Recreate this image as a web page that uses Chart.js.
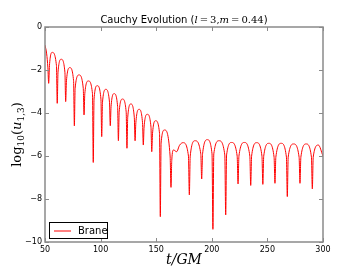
<!DOCTYPE html>
<html><head><meta charset="utf-8">
<script src="https://cdn.jsdelivr.net/npm/chart.js@4"></script>
<style>html,body{margin:0;padding:0;background:#fff}canvas{display:block}</style>
</head><body>
<canvas id="c" width="360" height="270"></canvas>
<script>
/* Cauchy evolution, brane mode l=3 */

const tVals = [
  50, 51.5, 52.6, 53.3, 54.0, 56.5, 60.3, 61.0, 61.7, 64.6,
  67.9, 68.6, 69.3, 72.3, 75.7, 76.4, 77.1, 80.6, 84.4, 85.1,
  85.8, 89.0, 92.7, 93.4, 94.1, 97.0, 100.3, 101.0, 101.7, 104.7,
  108.0, 108.7, 109.4, 112.2, 115.3, 116.0, 116.7, 119.7, 123.0, 123.7,
  124.4, 127.2, 130.3, 131.0, 131.7, 134.6, 137.7, 138.4, 139.1, 142.0,
  145.3, 146.0, 146.7, 149.5, 153.0, 153.7, 154.4, 157.5, 162.5, 163.3,
  164.0, 165.6, 168.4, 171.0, 174.2, 179.0, 179.8, 180.6, 185.0, 190.1,
  190.9, 191.7, 196.0, 200.2, 201.0, 201.8, 206.5, 211.7, 212.5, 213.3,
  217.8, 222.8, 223.6, 224.4, 229.3, 234.2, 235.0, 235.8, 240.4, 245.1,
  245.9, 246.7, 251.3, 256.0, 256.8, 257.6, 262.4, 267.1, 267.9, 268.7,
  273.6, 278.5, 279.3, 280.1, 284.9, 289.6, 290.4, 291.2, 295.8, 300.0
];
const logU = [
  -0.84, -1.25, -1.9, -2.62, -1.8, -1.18, -1.8, -3.55, -2.1, -1.5,
  -2.1, -3.47, -2.5, -1.89, -2.5, -4.6, -2.85, -2.23, -2.85, -4.09,
  -3.1, -2.51, -3.1, -6.3, -3.35, -2.73, -3.35, -5.1, -3.5, -2.9,
  -3.5, -4.59, -3.7, -3.1, -3.7, -5.29, -3.95, -3.35, -3.95, -5.64,
  -4.2, -3.58, -4.2, -5.29, -4.45, -3.83, -4.45, -5.49, -4.65, -4.06,
  -4.65, -5.8, -4.95, -4.36, -4.95, -8.82, -5.4, -4.79, -6.0, -7.46,
  -6.2, -5.72, -5.8, -5.5, -5.38, -6.0, -7.81, -6.0, -5.29, -5.9,
  -7.07, -5.9, -5.24, -5.9, -9.41, -5.9, -5.29, -5.95, -8.74, -5.95,
  -5.37, -6.0, -7.3, -6.0, -5.37, -6.0, -7.37, -6.0, -5.38, -6.0,
  -7.32, -6.0, -5.41, -6.05, -7.27, -6.05, -5.41, -6.05, -7.89, -6.05,
  -5.44, -6.05, -7.27, -6.05, -5.44, -6.05, -7.53, -6.05, -5.49, -6.0
];
const xTicks = [50, 100, 150, 200, 250, 300];
const yTicks = [0, -2, -4, -6, -8, -10];

const FRAME = "#8a8a8a";
const SANS = "'DejaVu Sans', sans-serif";
const SERIF = "'DejaVu Serif', serif";

// draw a row of text pieces with mixed fonts, centred on cx
function drawRuns(ctx, runs, cx, y) {
  let total = 0;
  runs.forEach((r) => { ctx.font = r.f; r.w = ctx.measureText(r.t).width; total += r.w; });
  let x = cx - total / 2;
  ctx.textAlign = "left";
  ctx.textBaseline = "alphabetic";
  runs.forEach((r) => {
    ctx.font = r.f;
    ctx.fillText(r.t, x, y + (r.dy || 0));
    x += r.w;
  });
}

const decor = {
  id: "decor",
  afterDraw(chart) {
    const { ctx, chartArea: a, scales } = chart;
    ctx.save();
    ctx.fillStyle = "#000";

    // frame + inward ticks on all four sides
    ctx.strokeStyle = FRAME;
    ctx.lineWidth = 1.5;
    ctx.strokeRect(a.left, a.top, a.right - a.left, a.bottom - a.top);
    ctx.lineWidth = 1;
    ctx.beginPath();
    xTicks.forEach((v) => {
      const px = Math.round(scales.x.getPixelForValue(v)) + 0.5;
      ctx.moveTo(px, a.bottom); ctx.lineTo(px, a.bottom - 4);
      ctx.moveTo(px, a.top); ctx.lineTo(px, a.top + 4);
    });
    yTicks.forEach((v) => {
      const py = Math.round(scales.y.getPixelForValue(v)) + 0.5;
      ctx.moveTo(a.left, py); ctx.lineTo(a.left + 4, py);
      ctx.moveTo(a.right, py); ctx.lineTo(a.right - 4, py);
    });
    ctx.stroke();

    const cx = (a.left + a.right) / 2;

    // title
    drawRuns(ctx, [
      { t: "Cauchy Evolution (", f: "10px " + SANS },
      { t: "l", f: "italic 10px " + SERIF },
      { t: "\u2009=\u20093,", f: "10px " + SERIF },
      { t: "m", f: "italic 10px " + SERIF },
      { t: "\u2009=\u20090.44", f: "10px " + SERIF },
      { t: ")", f: "10px " + SANS },
    ], cx, 23);

    // x label
    drawRuns(ctx, [{ t: "t/GM", f: "italic 14px " + SERIF }], cx, 264);

    // y label
    ctx.save();
    ctx.translate(21, (a.top + a.bottom) / 2);
    ctx.rotate(-Math.PI / 2);
    drawRuns(ctx, [
      { t: "log", f: "13px " + SERIF },
      { t: "10", f: "9px " + SERIF, dy: 3 },
      { t: "(", f: "13px " + SERIF },
      { t: "u", f: "italic 13px " + SERIF },
      { t: "1,3", f: "9px " + SERIF, dy: 3 },
      { t: ")", f: "13px " + SERIF },
    ], 0, 0);
    ctx.restore();

    // legend
    const lx = a.left + 4, ly = a.bottom - 20;
    ctx.fillStyle = "#fff";
    ctx.fillRect(lx, ly, 59, 17);
    ctx.strokeStyle = "#000";
    ctx.lineWidth = 1;
    ctx.strokeRect(lx + 0.5, ly + 0.5, 58, 16);
    ctx.strokeStyle = "red";
    ctx.beginPath();
    ctx.moveTo(lx + 5, ly + 9); ctx.lineTo(lx + 22, ly + 9);
    ctx.stroke();
    ctx.fillStyle = "#000";
    ctx.font = "10px " + SANS;
    ctx.textAlign = "left";
    ctx.textBaseline = "middle";
    ctx.fillText("Brane", lx + 29, ly + 9);
    ctx.restore();
  },
};

const points = tVals.map((t, i) => ({ x: t, y: logU[i] }));

new Chart(document.getElementById("c"), {
  type: "line",
  data: {
    datasets: [{
      label: "Brane",
      data: points,
      borderColor: "red",
      borderWidth: 1,
      pointRadius: 0,
      fill: false,
      cubicInterpolationMode: "monotone",
    }],
  },
  options: {
    responsive: false,
    animation: false,
    layout: { padding: { top: 27, right: 37, left: 0, bottom: 0 } },
    plugins: { legend: { display: false }, title: { display: false }, tooltip: { enabled: false } },
    scales: {
      x: {
        type: "linear", min: 50, max: 300,
        afterBuildTicks: (s) => { s.ticks = xTicks.map((v) => ({ value: v })); },
        afterFit: (s) => { s.height = 28; },
        grid: { display: false, drawTicks: false },
        border: { display: false },
        ticks: { color: "#000", font: { family: SANS, size: 8 }, padding: 3, maxRotation: 0 },
      },
      y: {
        type: "linear", min: -10, max: 0,
        afterBuildTicks: (s) => { s.ticks = yTicks.map((v) => ({ value: v })); },
        afterFit: (s) => { s.width = 45; },
        grid: { display: false, drawTicks: false },
        border: { display: false },
        ticks: {
          color: "#000", font: { family: SANS, size: 8 }, padding: 3,
          callback: (v) => String(v).replace("-", "\u2212"),
        },
      },
    },
  },
  plugins: [decor],
});
</script>
</body></html>
